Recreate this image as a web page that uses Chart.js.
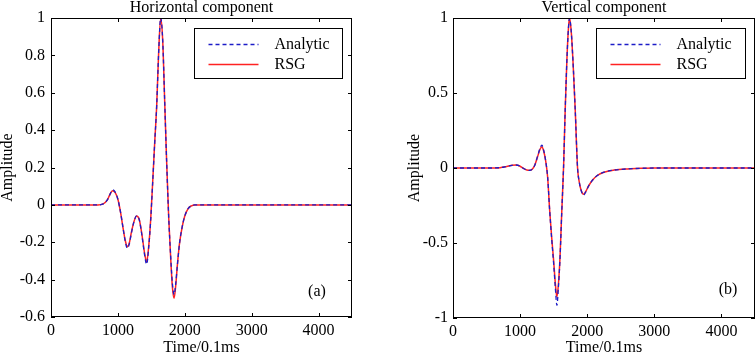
<!DOCTYPE html>
<html><head><meta charset="utf-8">
<script src="https://cdn.jsdelivr.net/npm/chart.js@4/dist/chart.umd.min.js"></script>
<style>
html,body{margin:0;padding:0;background:#fff;}
#wrap{position:relative;width:756px;height:354px;overflow:hidden;}
.box{position:absolute;top:0;width:378px;height:354px;}
</style></head><body>
<div id="wrap">
  <div class="box" style="left:0"><canvas id="c1"></canvas></div>
  <div class="box" style="left:378px"><canvas id="c2"></canvas></div>
</div>
<script>
// ---- data ----
const seriesNames = ['Analytic', 'RSG'];
const panelTitles = ['Horizontal component', 'Vertical component'];
const panelTags = ['(a)', '(b)'];
const xTitle = 'Time/0.1ms';
const yTitle = 'Amplitude';
const xTicks = [0, 1000, 2000, 3000, 4000];
const yTicksH = [-0.6, -0.4, -0.2, 0, 0.2, 0.4, 0.6, 0.8, 1];
const yTicksV = [-1, -0.5, 0, 0.5, 1];

const timeH = [0,500,700,780,840,880,920,960,1000,1040,1080,1110,1140,1170,1200,1240,1280,1320,1360,1400,1430,1460,1490,1520,1550,1580,1610,1640,1670,1700,1730,1760,1790,1815,1840,1865,1890,1920,1960,2000,2050,2100,2150,2500,3000,3500,4000,4500];
const analyticH = [0,0,0,0.005,0.025,0.055,0.08,0.068,0.03,-0.04,-0.13,-0.195,-0.232,-0.21,-0.155,-0.09,-0.058,-0.08,-0.165,-0.27,-0.318,-0.23,-0.085,0.12,0.33,0.53,0.82,1.0,0.88,0.55,0.22,-0.07,-0.28,-0.42,-0.48,-0.42,-0.32,-0.21,-0.12,-0.06,-0.02,-0.005,0,0,0,0,0,0];
const rsgH = [0,0,0,0.005,0.025,0.055,0.076,0.066,0.03,-0.04,-0.13,-0.19,-0.224,-0.205,-0.15,-0.09,-0.06,-0.08,-0.16,-0.26,-0.305,-0.225,-0.08,0.12,0.33,0.53,0.82,1.0,0.88,0.55,0.22,-0.07,-0.29,-0.44,-0.50,-0.43,-0.32,-0.21,-0.12,-0.06,-0.02,-0.005,0,0,0,0,0,0];

const timeV = [0,500,700,800,880,940,1000,1050,1100,1140,1180,1220,1260,1300,1325,1350,1380,1410,1440,1470,1500,1525,1548,1570,1595,1620,1647,1672,1697,1720,1736,1760,1787,1821,1856,1880,1910,1946,1980,2020,2080,2150,2250,2400,2600,2800,3000,3500,4000,4500];
const analyticV = [0,0,0.002,0.01,0.018,0.02,0.012,-0.003,-0.013,-0.016,-0.008,0.02,0.078,0.135,0.153,0.12,0.05,-0.06,-0.28,-0.47,-0.64,-0.80,-0.915,-0.80,-0.60,-0.30,0,0.39,0.72,0.93,1.0,0.92,0.72,0.39,0,-0.09,-0.15,-0.18,-0.158,-0.12,-0.08,-0.05,-0.028,-0.014,-0.006,-0.002,0,0,0,0];
const rsgV = [0,0,0.002,0.01,0.018,0.02,0.012,-0.003,-0.013,-0.015,-0.008,0.02,0.075,0.128,0.142,0.115,0.05,-0.06,-0.28,-0.46,-0.62,-0.77,-0.86,-0.78,-0.59,-0.30,0,0.39,0.72,0.93,1.0,0.92,0.72,0.39,0,-0.09,-0.15,-0.175,-0.155,-0.12,-0.08,-0.05,-0.028,-0.014,-0.006,-0.002,0,0,0,0];

// ---- styling / drawing ----
const FONT = '"Liberation Serif", "Times New Roman", serif';
const pts = (t, v) => t.map((x, i) => ({x: x, y: v[i]}));

const framePlugin = {
  id: 'frame',
  afterDatasetsDraw(chart, args, o) {
    const {ctx, chartArea: a, scales: {x, y}} = chart;
    ctx.save();
    ctx.strokeStyle = '#000';
    ctx.lineWidth = 1;
    ctx.setLineDash([]);
    ctx.strokeRect(a.left + 0.5, a.top + 0.5, a.right - a.left - 1, a.bottom - a.top - 1);
    const tl = 4;
    ctx.beginPath();
    x.ticks.forEach(t => {
      const px = Math.round(x.getPixelForValue(t.value)) + 0.5;
      ctx.moveTo(px, a.bottom); ctx.lineTo(px, a.bottom - tl);
      ctx.moveTo(px, a.top); ctx.lineTo(px, a.top + tl);
    });
    y.ticks.forEach(t => {
      const py = Math.round(y.getPixelForValue(t.value)) + 0.5;
      ctx.moveTo(a.left, py); ctx.lineTo(a.left + tl, py);
      ctx.moveTo(a.right, py); ctx.lineTo(a.right - tl, py);
    });
    ctx.stroke();

    // legend box
    const bw = o.legendW, bh = 50;
    const bx = Math.round(a.right - 10 - bw) + 0.5, by = Math.round(a.top + 10) + 0.5;
    ctx.fillStyle = '#fff';
    ctx.fillRect(bx, by, bw, bh);
    ctx.strokeRect(bx, by, bw, bh);
    ctx.font = '16px ' + FONT;
    ctx.textBaseline = 'middle';
    ctx.textAlign = 'left';
    chart.data.datasets.forEach((ds, i) => {
      const ly = Math.round(by + 15 + i * 20) + 0.5;
      ctx.save();
      ctx.strokeStyle = ds.borderColor;
      ctx.lineWidth = ds.borderWidth;
      ctx.setLineDash(ds.borderDash || []);
      ctx.beginPath();
      ctx.moveTo(bx + 14, ly); ctx.lineTo(bx + 64, ly);
      ctx.stroke();
      ctx.restore();
      ctx.fillStyle = '#000';
      ctx.fillText(ds.label, bx + 80, ly);
    });
    // panel tag
    ctx.textAlign = 'center';
    ctx.fillText(o.tag, a.right - o.tagDx, a.bottom - o.tagDy);
    ctx.restore();
  }
};

function makeChart(id, t, a, r, yTicks, yMin, yMax, opts) {
  return new Chart(document.getElementById(id), {
    type: 'line',
    data: {
      datasets: [
        {label: seriesNames[0], data: pts(t, a), borderColor: '#1c1cc8', borderWidth: 1.3, borderDash: [4, 3], pointRadius: 0, cubicInterpolationMode: 'monotone', fill: false},
        {label: seriesNames[1], data: pts(t, r), borderColor: '#ff2222', borderWidth: 1.5, pointRadius: 0, cubicInterpolationMode: 'monotone', fill: false}
      ]
    },
    plugins: [framePlugin],
    options: {
      responsive: true,
      maintainAspectRatio: false,
      animation: false,
      devicePixelRatio: 1,
      events: [],
      layout: {padding: {left: opts.padLeft, right: opts.padRight, top: 0, bottom: 0}},
      plugins: {
        legend: {display: false},
        tooltip: {enabled: false},
        title: {display: true, fullSize: false, text: opts.title, color: '#000', font: {family: FONT, size: 16, weight: 'normal', lineHeight: 1}, padding: {top: 0, bottom: 2}},
        frame: {legendW: opts.legendW, tag: opts.tag, tagDx: opts.tagDx, tagDy: opts.tagDy}
      },
      scales: {
        x: {
          type: 'linear', min: 0, max: 4500,
          afterBuildTicks: s => { s.ticks = xTicks.map(v => ({value: v})); },
          afterFit: s => { s.height = opts.xH; },
          grid: {display: false, drawTicks: false}, border: {display: false},
          ticks: {color: '#000', font: {family: FONT, size: 16, lineHeight: 1}, padding: 6, maxRotation: 0, autoSkip: false, callback: v => String(v)},
          title: {display: true, text: xTitle, color: '#000', font: {family: FONT, size: 16, lineHeight: 1}, padding: {top: 0, bottom: -2}}
        },
        y: {
          type: 'linear', min: yMin, max: yMax,
          afterBuildTicks: s => { s.ticks = yTicks.map(v => ({value: v})); },
          afterFit: s => { s.width = opts.yW; },
          grid: {display: false, drawTicks: false}, border: {display: false},
          ticks: {color: '#000', font: {family: FONT, size: 16, lineHeight: 1}, padding: opts.yPad, autoSkip: false, callback: v => String(v)},
          title: {display: true, text: yTitle, color: '#000', font: {family: FONT, size: 16, lineHeight: 1}, padding: {top: 0, bottom: 0}}
        }
      }
    }
  });
}

makeChart('c1', timeH, analyticH, rsgH, yTicksH, -0.6, 1,
  {title: panelTitles[0], padLeft: 0, padRight: 26, yW: 51, xH: 37, yPad: 6, legendW: 148, tag: panelTags[0], tagDx: 35, tagDy: 25});
makeChart('c2', timeV, analyticV, rsgV, yTicksV, -1, 1,
  {title: panelTitles[1], padLeft: 29, padRight: 1, yW: 46, xH: 36, yPad: 5, legendW: 149, tag: panelTags[1], tagDx: 27, tagDy: 28});
</script>
</body></html>
